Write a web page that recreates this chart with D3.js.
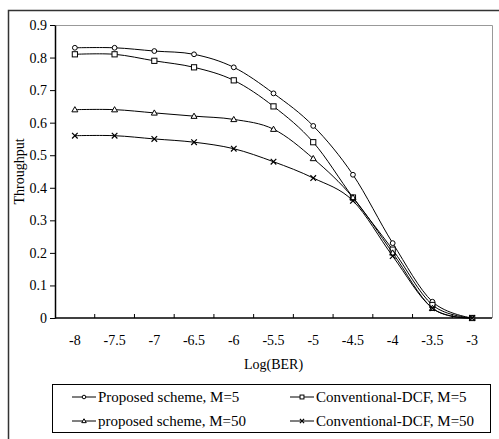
<!DOCTYPE html>
<html><head><meta charset="utf-8">
<script src="https://cdn.jsdelivr.net/npm/d3@7/dist/d3.min.js"></script>
<style>body{margin:0;background:#fff}svg{display:block}text{font-family:'Liberation Serif','Times New Roman',serif !important}</style>
</head><body><svg id="c" width="499" height="439"></svg>
<script>
const categories = ["-8","-7.5","-7","-6.5","-6","-5.5","-5","-4.5","-4","-3.5","-3"];
const proposedM5 = [0.83,0.83,0.82,0.81,0.77,0.69,0.59,0.44,0.23,0.05,0];
const conventionalM5 = [0.81,0.81,0.79,0.77,0.73,0.65,0.54,0.37,0.21,0.04,0];
const proposedM50 = [0.64,0.64,0.63,0.62,0.61,0.58,0.49,0.37,0.20,0.03,0];
const conventionalM50 = [0.56,0.56,0.55,0.54,0.52,0.48,0.43,0.36,0.19,0.03,0];
const yTicks = [0,0.1,0.2,0.3,0.4,0.5,0.6,0.7,0.8,0.9];
const seriesNames = ["Proposed scheme, M=5","Conventional-DCF, M=5","proposed scheme, M=50","Conventional-DCF, M=50"];
const series = [
  {name:seriesNames[0], values:proposedM5, sym:"circle"},
  {name:seriesNames[1], values:conventionalM5, sym:"square"},
  {name:seriesNames[2], values:proposedM50, sym:"triangle"},
  {name:seriesNames[3], values:conventionalM50, sym:"cross"}
];
const FONT = "Liberation Serif";

const svg = d3.select("#c");
// outer frame
svg.append("path").attr("d","M8.5,600V10.5H600").attr("fill","none").attr("stroke","#333").attr("stroke-width",1.5);

const L=55, R=492, T=25, B=318;
const x = d3.scaleBand().domain(categories).range([L,R]);
const y = d3.scaleLinear().domain([0,0.9]).range([B,T]);
const cx = c => x(c)+x.bandwidth()/2;

// plot area border (top/right gray)
svg.append("path").attr("d",`M${L},${T+0.5}H${R+0.5}V${B}`).attr("fill","none").attr("stroke","#999").attr("stroke-width",1);

// y axis
const ya = svg.append("g").attr("transform",`translate(${L},0)`)
  .call(d3.axisLeft(y).tickValues(yTicks).tickSize(5).tickSizeOuter(0).tickFormat(d=>d===0?"0":d3.format(".1f")(d)));
ya.attr("font-family",FONT);
ya.select(".domain").attr("stroke","#000").attr("stroke-width",1.5);
ya.selectAll(".tick line").attr("stroke","#000");
ya.selectAll(".tick text").attr("font-family",FONT).attr("font-size",14).attr("fill","#000").attr("x",-8);

// x axis (ticks between categories, pointing inward)
const xa = svg.append("g").attr("transform",`translate(0,${B})`);
xa.append("line").attr("x1",L).attr("x2",R).attr("stroke","#000").attr("stroke-width",1.5);
const bounds = categories.slice(1).map(c=>x(c));
xa.selectAll("line.t").data(bounds).join("line").attr("class","t")
  .attr("x1",d=>d).attr("x2",d=>d).attr("y1",0).attr("y2",-4).attr("stroke","#000");
xa.selectAll("text").data(categories).join("text")
  .attr("x",d=>cx(d)).attr("y",27).attr("text-anchor","middle").attr("font-family",FONT)
  .attr("font-size",14).attr("fill","#000").text(d=>d);

// axis titles
svg.append("text").attr("x",(L+R)/2).attr("y",369).attr("text-anchor","middle").attr("font-family",FONT).attr("font-size",14).text("Log(BER)");
svg.append("text").attr("transform",`translate(24,${(T+B)/2}) rotate(-90)`).attr("text-anchor","middle").attr("font-family",FONT).attr("font-size",14).text("Throughput");

// markers
function marker(g, sym, s){
  if(sym==="circle") g.append("circle").attr("r",2.4*s).attr("fill","#fff").attr("stroke","#000").attr("stroke-width",1);
  else if(sym==="square") g.append("rect").attr("x",-2.6*s).attr("y",-2.6*s).attr("width",5.2*s).attr("height",5.2*s).attr("fill","#fff").attr("stroke","#000").attr("stroke-width",1);
  else if(sym==="triangle") g.append("path").attr("d",`M0,${-3*s}L${3*s},${2.2*s}L${-3*s},${2.2*s}Z`).attr("fill","#fff").attr("stroke","#000").attr("stroke-width",1);
  else g.append("path").attr("d",`M${-2.8*s},${-2.8*s}L${2.8*s},${2.8*s}M${2.8*s},${-2.8*s}L${-2.8*s},${2.8*s}`).attr("stroke","#000").attr("stroke-width",1.2);
}

const line = d3.line().x((d,i)=>cx(categories[i])).y(d=>y(d)).curve(d3.curveCardinal.tension(0));
series.forEach(s=>{
  svg.append("path").attr("d",line(s.values)).attr("fill","none").attr("stroke","#000").attr("stroke-width",1);
  s.values.forEach((v,i)=>{
    const g = svg.append("g").attr("transform",`translate(${cx(categories[i])},${y(v)})`);
    marker(g, s.sym, 1);
  });
});

// legend
svg.append("rect").attr("x",52.5).attr("y",384.5).attr("width",438).attr("height",48).attr("fill","#fff").attr("stroke","#000").attr("stroke-width",1);
const legPos = [[72,397],[290,397],[72,421],[290,421]];
series.forEach((s,i)=>{
  const [lx,ly] = legPos[i];
  svg.append("line").attr("x1",lx).attr("x2",lx+24).attr("y1",ly).attr("y2",ly).attr("stroke","#000").attr("stroke-width",1);
  marker(svg.append("g").attr("transform",`translate(${lx+12},${ly})`), s.sym, 0.75);
  svg.append("text").attr("x",lx+26).attr("y",ly+5).attr("font-family",FONT).attr("font-size",15).attr("fill","#000").text(s.name);
});
</script></body></html>
